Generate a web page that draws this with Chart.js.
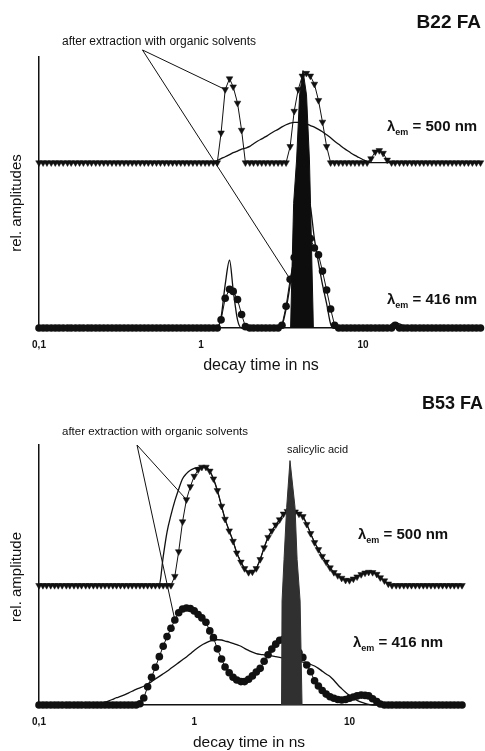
<!DOCTYPE html>
<html>
<head>
<meta charset="utf-8">
<script src="https://cdn.jsdelivr.net/npm/chart.js@4/dist/chart.umd.min.js"></script>
<style>
  html, body { margin: 0; padding: 0; background: #fff; }
  #wrap { position: relative; width: 485px; height: 751px; overflow: hidden; background: #fff; }
  canvas { position: absolute; left: 0; }
  #b22 { top: 0; }
  #b53 { top: 375px; }
</style>
</head>
<body>
<div id="wrap">
  <canvas id="b22" width="485" height="375"></canvas>
  <canvas id="b53" width="485" height="376"></canvas>
</div>
<script>
const FONT = '"Liberation Sans", Arial, Helvetica, sans-serif';

// Lifetime grid (ns), 40 points per decade
const lifetimes = [
  0.100, 0.106, 0.112, 0.119, 0.126, 0.133, 0.141, 0.150, 0.158, 0.168,
  0.178, 0.188, 0.200, 0.211, 0.224, 0.237, 0.251, 0.266, 0.282, 0.299,
  0.316, 0.335, 0.355, 0.376, 0.398, 0.422, 0.447, 0.473, 0.501, 0.531,
  0.562, 0.596, 0.631, 0.668, 0.708, 0.750, 0.794, 0.841, 0.891, 0.944,
  1.00, 1.06, 1.12, 1.19, 1.26, 1.33, 1.41, 1.50, 1.58, 1.68,
  1.78, 1.88, 2.00, 2.11, 2.24, 2.37, 2.51, 2.66, 2.82, 2.99,
  3.16, 3.35, 3.55, 3.76, 3.98, 4.22, 4.47, 4.73, 5.01, 5.31,
  5.62, 5.96, 6.31, 6.68, 7.08, 7.50, 7.94, 8.41, 8.91, 9.44,
  10.0, 10.6, 11.2, 11.9, 12.6, 13.3, 14.1, 15.0, 15.8, 16.8,
  17.8, 18.8, 20.0, 21.1, 22.4, 23.7, 25.1, 26.6, 28.2, 29.9,
  31.6, 33.5, 35.5, 37.6, 39.8, 42.2, 44.7, 47.3, 50.1, 53.1
];

const tickValues = [0.1, 1, 10];
const tickLabels = ['0,1', '1', '10'];

// ---- B22 FA ----
const b22Offset500 = 61;   // baseline of the 500 nm trace
const b22Markers500 = [
  0, 0, 0, 0, 0, 0, 0, 0, 0, 0,
  0, 0, 0, 0, 0, 0, 0, 0, 0, 0,
  0, 0, 0, 0, 0, 0, 0, 0, 0, 0,
  0, 0, 0, 0, 0, 0, 0, 0, 0, 0,
  0, 0, 0, 0, 0, 11, 27, 31, 28, 22,
  12, 0, 0, 0, 0, 0, 0, 0, 0, 0,
  0, 0, 6, 19, 27, 32, 33, 32, 29, 23,
  15, 6, 0, 0, 0, 0, 0, 0, 0, 0,
  0, 0, 1.5, 4, 4.5, 3.5, 1, 0, 0, 0,
  0, 0, 0, 0, 0, 0, 0, 0, 0, 0,
  0, 0, 0, 0, 0, 0, 0, 0, 0, 0
];
const b22Extract500 = [
  0, 0, 0, 0, 0, 0, 0, 0, 0, 0,
  0, 0, 0, 0, 0, 0, 0, 0, 0, 0,
  0, 0, 0, 0, 0, 0, 0, 0, 0, 0,
  0, 0, 0, 0, 0, 0, 0, 0, 0, 0,
  0, 0, 0, 0, 0.8, 1.5, 2.2, 3, 3.7, 4.3,
  5, 5.4, 6, 7, 8, 8.8, 9.6, 10.6, 11.5, 12.3,
  13.2, 14, 14.6, 14.9, 14.9, 14.8, 14.3, 13.7, 13.1, 12.3,
  11.4, 10.3, 9.2, 7.9, 6.8, 5.6, 4.6, 3.6, 2.7, 1.9,
  1.1, 0.4, 0, 0, 0, 0, 0, 0, 0, 0,
  0, 0, 0, 0, 0, 0, 0, 0, 0, 0,
  0, 0, 0, 0, 0, 0, 0, 0, 0, 0
];
const b22Markers416 = [
  0, 0, 0, 0, 0, 0, 0, 0, 0, 0,
  0, 0, 0, 0, 0, 0, 0, 0, 0, 0,
  0, 0, 0, 0, 0, 0, 0, 0, 0, 0,
  0, 0, 0, 0, 0, 0, 0, 0, 0, 0,
  0, 0, 0, 0, 0, 3, 11, 14.3, 13.5, 10.5,
  5, 0.5, 0, 0, 0, 0, 0, 0, 0, 0,
  1, 8, 18, 26, 31, 34, 35, 33, 29.5, 27,
  21, 14, 7, 1, 0, 0, 0, 0, 0, 0,
  0, 0, 0, 0, 0, 0, 0, 0, 1, 0,
  0, 0, 0, 0, 0, 0, 0, 0, 0, 0,
  0, 0, 0, 0, 0, 0, 0, 0, 0, 0
];
const b22Extract416 = [
  0, 0, 0, 0, 0, 0, 0, 0, 0, 0,
  0, 0, 0, 0, 0, 0, 0, 0, 0, 0,
  0, 0, 0, 0, 0, 0, 0, 0, 0, 0,
  0, 0, 0, 0, 0, 0, 0, 0, 0, 0,
  0, 0, 0, 0, 0, 4, 16, 25, 14, 3,
  0, 0, 0, 0, 0, 0, 0, 0, 0, 0,
  1, 7, 16, 27, 38, 46, 50, 45, 33, 24,
  16, 9, 1.5, 0, 0, 0, 0, 0, 0, 0,
  0, 0, 0, 0, 0, 0, 0, 1.5, 2, 1.5,
  0.8, 0, 0, 0, 0, 0, 0, 0, 0, 0,
  0, 0, 0, 0, 0, 0, 0, 0, 0, 0
];
const b22PeakTau = [3.57, 3.73, 3.89, 4.06, 4.26, 4.48, 4.67, 4.74, 4.94];
const b22PeakAmp = [0, 46, 62, 86, 95, 86, 62, 46, 0];

// ---- B53 FA ----
const b53Offset500 = 46;
const b53Markers500 = [
  0, 0, 0, 0, 0, 0, 0, 0, 0, 0,
  0, 0, 0, 0, 0, 0, 0, 0, 0, 0,
  0, 0, 0, 0, 0, 0, 0, 0, 0, 0,
  0, 0, 0, 0, 0, 3.5, 13, 24.5, 33, 38,
  42, 44.5, 45.5, 45.5, 44, 41, 36.5, 30.5, 25.5, 21,
  17, 12.5, 9, 6.5, 5, 5.2, 6.5, 10, 14.5, 18.5,
  21, 23.3, 25.3, 27.5, 28.5, 28.8, 28.3, 27.5, 26.5, 23.5,
  20, 16.5, 13.8, 11.2, 9, 6.8, 5, 3.8, 2.8, 2,
  1.9, 2.5, 3.3, 4.2, 4.8, 5.1, 5, 4.3, 3, 1.8,
  0.6, 0, 0, 0, 0, 0, 0, 0, 0, 0,
  0, 0, 0, 0, 0, 0, 0, 0, 0, 0
];
const b53Extract500 = [
  0, 0, 0, 0, 0, 0, 0, 0, 0, 0,
  0, 0, 0, 0, 0, 0, 0, 0, 0, 0,
  0, 0, 0, 0, 0, 0, 0, 0, 0, 0,
  0, 0.3, 11, 20.5, 27, 32.5, 37, 41, 43, 44.3,
  45, 45.4, 45.6, 45.5, 44, 41, 36.5, 30.5, 25.5, 21,
  17, 12.5, 9, 6.5, 5, 5.2, 6.5, 10, 14.5, 18.5,
  21, 23.3, 25.3, 27.5, 28.5, 28.8, 28.3, 27.5, 26.5, 23.5,
  20, 16.5, 13.8, 11.2, 9, 6.8, 5, 3.8, 2.8, 2,
  1.9, 2.5, 3.3, 4.2, 4.8, 5.1, 5, 4.3, 3, 1.8,
  0.6, 0, 0, 0, 0, 0, 0, 0, 0, 0,
  0, 0, 0, 0, 0, 0, 0, 0, 0, 0
];
const b53Markers416 = [
  0, 0, 0, 0, 0, 0, 0, 0, 0, 0,
  0, 0, 0, 0, 0, 0, 0, 0, 0, 0,
  0, 0, 0, 0, 0, 0, 0.5, 2.7, 7, 10.7,
  14.5, 18.6, 22.6, 26.3, 29.5, 32.7, 35.5, 36.9, 37.3, 37.1,
  36.2, 34.8, 33.5, 31.8, 28.5, 25.9, 21.6, 17.7, 14.6, 12.4,
  10.7, 9.6, 9, 9, 9.9, 11.2, 12.7, 14.1, 16.8, 19.3,
  21.5, 23.4, 24.9, 25.3, 24.9, 23.8, 22.3, 20.2, 18.3, 15.4,
  12.8, 9.3, 7.3, 5.6, 4.2, 3.2, 2.6, 2.1, 1.9, 2.1,
  2.6, 3.1, 3.5, 3.8, 3.7, 3.5, 2.4, 1.3, 0.4, 0,
  0, 0, 0, 0, 0, 0, 0, 0, 0, 0,
  0, 0, 0, 0, 0, 0, 0, 0, 0, 0
];
const b53Extract416 = [
  0, 0, 0, 0, 0, 0, 0, 0, 0, 0,
  0, 0, 0, 0, 0.2, 0.4, 0.7, 1.1, 1.6, 2.2,
  2.8, 3.3, 3.9, 4.6, 5.3, 6, 6.6, 7.2, 8.1, 9,
  10, 11, 12, 13, 14.1, 15.2, 16.3, 17.4, 18.5, 19.7,
  21, 22.1, 23.1, 23.9, 24.6, 25, 25.1, 25, 24.6, 24.2,
  23.7, 23.2, 22.6, 21.8, 21, 20.3, 19.8, 19.5, 19.3, 19.1,
  18.9, 18.6, 18.3, 18, 17.7, 17.4, 17.1, 16.8, 16.5, 16.1,
  15.6, 15, 14.1, 13, 11.9, 11, 9.5, 7.8, 6.3, 4.9,
  3.7, 2.6, 1.8, 1.1, 0.6, 0.2, 0, 0, 0, 0,
  0, 0, 0, 0, 0, 0, 0, 0, 0, 0,
  0, 0, 0, 0, 0, 0, 0, 0, 0, 0
];
const b53PeakTau = [3.65, 3.68, 3.79, 3.94, 4.14, 4.46, 4.60, 4.81, 4.95];
const b53PeakAmp = [0, 40, 56, 76, 94, 76, 56, 40, 0];

// ---- plugins ----
// leader lines from a label anchor (data coords) to points of named datasets
const leaderPlugin = {
  id: 'leaders',
  afterDatasetsDraw(chart, args, opts) {
    const { ctx, scales } = chart;
    ctx.save();
    ctx.strokeStyle = '#111';
    ctx.lineWidth = 1;
    (opts.items || []).forEach(item => {
      const x0 = scales.x.getPixelForValue(item.from[0]);
      const y0 = scales.y.getPixelForValue(item.from[1]);
      item.to.forEach(([label, idx]) => {
        const dsIndex = chart.data.datasets.findIndex(d => d.label === label);
        const pt = chart.getDatasetMeta(dsIndex).data[idx];
        ctx.beginPath();
        ctx.moveTo(x0, y0);
        ctx.lineTo(pt.x, pt.y);
        ctx.stroke();
      });
    });
    ctx.restore();
  }
};

function drawLambda(ctx, x, y, rest, size) {
  ctx.textBaseline = 'middle';
  ctx.textAlign = 'left';
  ctx.font = `bold ${size}px ${FONT}`;
  ctx.fillText('λ', x, y);
  let cx = x + ctx.measureText('λ').width;
  ctx.font = `bold ${Math.round(size * 0.6)}px ${FONT}`;
  ctx.fillText('em', cx, y + size * 0.35);
  cx += ctx.measureText('em').width;
  ctx.font = `bold ${size}px ${FONT}`;
  ctx.fillText(rest, cx, y);
}

const textPlugin = {
  id: 'panelText',
  afterDraw(chart, args, opts) {
    const ctx = chart.ctx;
    ctx.save();
    ctx.fillStyle = '#111';
    (opts.items || []).forEach(t => {
      if (t.lambda) { drawLambda(ctx, t.x, t.y, t.text, t.size); return; }
      ctx.font = `${t.weight || 'normal'} ${t.size}px ${FONT}`;
      ctx.textBaseline = 'middle';
      ctx.textAlign = t.align || 'left';
      if (t.rotate) {
        ctx.save();
        ctx.translate(t.x, t.y);
        ctx.rotate(t.rotate);
        ctx.fillText(t.text, 0, 0);
        ctx.restore();
      } else {
        ctx.fillText(t.text, t.x, t.y);
      }
    });
    ctx.restore();
  }
};

function buildPanel(canvasId, p) {
  const pts = (amps, off) => lifetimes.map((t, i) => ({ x: t, y: off + amps[i] }));
  const datasets = [
    {
      label: p.peakLabel,
      data: p.peakTau.map((t, i) => ({ x: t, y: p.peakAmp[i] })),
      order: 0, borderColor: p.peakColor, backgroundColor: p.peakColor,
      borderWidth: 1, pointRadius: 0, fill: 'origin', tension: 0, clip: false
    },
    {
      label: '500 nm',
      data: pts(p.markers500, p.offset500),
      order: 1, borderColor: '#111', backgroundColor: '#111', borderWidth: 1,
      pointStyle: 'triangle', rotation: 180, pointRadius: 3.8, pointBorderWidth: 0.5,
      pointBackgroundColor: '#111', pointBorderColor: '#111', tension: 0, clip: false
    },
    {
      label: '416 nm',
      data: pts(p.markers416, 0),
      order: 1, borderColor: '#111', backgroundColor: '#111', borderWidth: 1,
      pointStyle: 'circle', pointRadius: 3.8, pointBorderWidth: 0,
      pointBackgroundColor: '#111', tension: 0, clip: false
    },
    {
      label: '500 nm extracted',
      data: pts(p.extract500, p.offset500),
      order: 2, borderColor: '#111', borderWidth: 1.3, pointRadius: 0,
      cubicInterpolationMode: 'monotone', clip: false
    },
    {
      label: '416 nm extracted',
      data: pts(p.extract416, 0),
      order: 2, borderColor: '#111', borderWidth: 1.3, pointRadius: 0,
      cubicInterpolationMode: 'monotone', clip: false
    }
  ];

  return new Chart(document.getElementById(canvasId), {
    type: 'line',
    data: { datasets },
    plugins: [leaderPlugin, textPlugin],
    options: {
      responsive: false,
      animation: false,
      events: [],
      layout: { padding: { top: p.padTop, right: p.padRight, left: 0, bottom: 0 } },
      scales: {
        x: {
          type: 'logarithmic', min: 0.1, max: 53.1,
          afterBuildTicks: s => { s.ticks = tickValues.map(v => ({ value: v })); },
          afterFit: s => { s.height = p.xAxisHeight; },
          ticks: {
            autoSkip: false, maxRotation: 0, padding: 11, color: '#111',
            font: { family: FONT, size: 10, weight: 'bold' },
            callback: (v, i) => tickLabels[i]
          },
          grid: { display: false, drawTicks: false },
          border: { display: true, color: '#111', width: 1.5 }
        },
        y: {
          min: 0, max: 100,
          afterFit: s => { s.width = 39; },
          ticks: { display: false },
          grid: { display: false, drawTicks: false },
          border: { display: true, color: '#111', width: 1.5 }
        }
      },
      plugins: {
        legend: { display: false },
        tooltip: { enabled: false },
        leaders: { items: p.leaders },
        panelText: { items: p.texts }
      }
    }
  });
}

buildPanel('b22', {
  offset500: b22Offset500,
  markers500: b22Markers500, extract500: b22Extract500,
  markers416: b22Markers416, extract416: b22Extract416,
  peakTau: b22PeakTau, peakAmp: b22PeakAmp, peakLabel: 'reference peak', peakColor: '#0d0d0d',
  padTop: 57, padRight: 2, xAxisHeight: 47,
  leaders: [{ from: [0.435, 102.6], to: [['500 nm', 46], ['416 nm', 62]] }],
  texts: [
    { text: 'B22 FA', x: 481, y: 23, size: 19, weight: 'bold', align: 'right' },
    { text: 'after extraction with organic solvents', x: 62, y: 42, size: 12 },
    { lambda: true, text: ' = 500 nm', x: 387, y: 127, size: 15 },
    { lambda: true, text: ' = 416 nm', x: 387, y: 300, size: 15 },
    { text: 'rel. amplitudes', x: 17, y: 203, size: 15, align: 'center', rotate: -Math.PI / 2 },
    { text: 'decay time in ns', x: 261, y: 366, size: 16, align: 'center' }
  ]
});

buildPanel('b53', {
  offset500: b53Offset500,
  markers500: b53Markers500, extract500: b53Extract500,
  markers416: b53Markers416, extract416: b53Extract416,
  peakTau: b53PeakTau, peakAmp: b53PeakAmp, peakLabel: 'salicylic acid', peakColor: '#303030',
  padTop: 70, padRight: 23, xAxisHeight: 46,
  leaders: [{ from: [0.428, 100], to: [['500 nm', 38], ['416 nm', 35]] }],
  texts: [
    { text: 'B53 FA', x: 483, y: 29, size: 18, weight: 'bold', align: 'right' },
    { text: 'after extraction with organic solvents', x: 62, y: 57, size: 11.5 },
    { text: 'salicylic acid', x: 287, y: 75, size: 11 },
    { lambda: true, text: ' = 500 nm', x: 358, y: 160, size: 15 },
    { lambda: true, text: ' = 416 nm', x: 353, y: 268, size: 15 },
    { text: 'rel. amplitude', x: 17, y: 202, size: 15, align: 'center', rotate: -Math.PI / 2 },
    { text: 'decay time in ns', x: 249, y: 368, size: 15.5, align: 'center' }
  ]
});
</script>
</body>
</html>
